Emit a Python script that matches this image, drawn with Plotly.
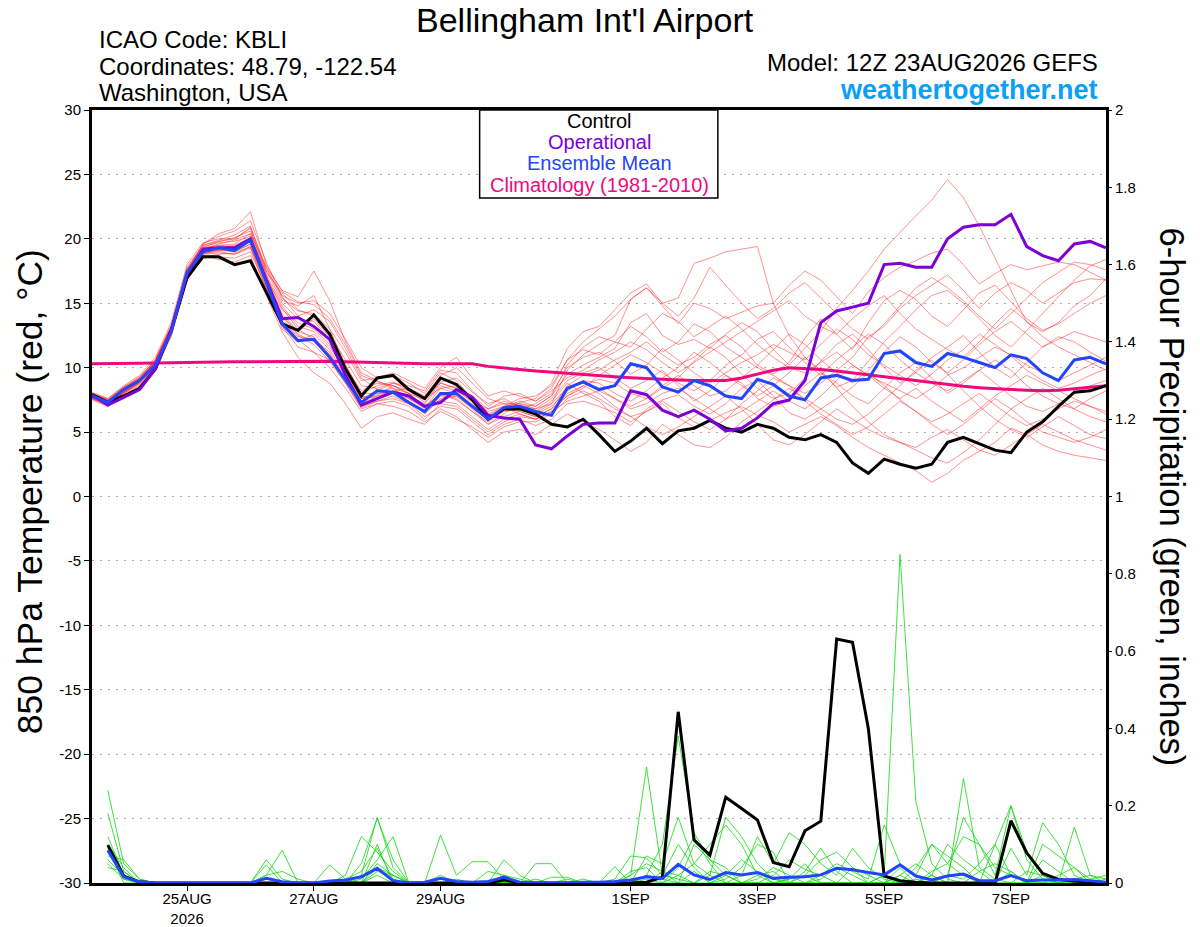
import pandas as pd
import plotly.graph_objects as go

# 6-hourly GEFS steps, 12Z 23 Aug 2026 -> 12Z 8 Sep 2026
times = pd.date_range("2026-08-23 12:00", periods=65, freq="6h")
precip_times = times[1:]

tick_dates = ["2026-08-25", "2026-08-27", "2026-08-29", "2026-09-01",
              "2026-09-03", "2026-09-05", "2026-09-07"]
tick_text = ["25AUG<br>2026", "27AUG", "29AUG", "1SEP", "3SEP", "5SEP", "7SEP"]

temp_ticks = [-30, -25, -20, -15, -10, -5, 0, 5, 10, 15, 20, 25, 30]
temp_tick_text = ["-30", "-25", "-20", "-15", "-10", "-5", "0", "5", "10", "15", "20", "25", "30"]
precip_ticks = [0, 0.2, 0.4, 0.6, 0.8, 1, 1.2, 1.4, 1.6, 1.8, 2]
precip_tick_text = ["0", "0.2", "0.4", "0.6", "0.8", "1", "1.2", "1.4", "1.6", "1.8", "2"]

# 850 hPa temperature (C)
control_t = [7.9, 7.3, 7.8, 8.4, 9.9, 12.9, 17.0, 18.6, 18.6, 18.0, 18.3,
             15.9, 13.4, 12.9, 14.1, 12.6, 9.9, 7.8, 9.2, 9.4, 8.3,
             7.6, 9.2, 8.7, 7.5, 6.0, 6.8, 6.8, 6.4, 5.6, 5.4,
             6.0, 4.8, 3.5, 4.3, 5.3, 4.1, 5.1, 5.3, 5.9, 5.3,
             5.0, 5.6, 5.3, 4.6, 4.4, 4.8, 4.2, 2.6, 1.8, 2.9,
             2.5, 2.2, 2.5, 4.2, 4.6, 4.1, 3.6, 3.4, 5.0, 5.8,
             7.0, 8.1, 8.2, 8.6]
ops_t = [7.9, 7.1, 7.7, 8.3, 9.9, 12.9, 17.3, 19.2, 19.3, 19.3, 20.0,
         16.8, 13.8, 13.9, 13.2, 12.2, 9.4, 7.1, 7.6, 8.1, 7.8,
         7.0, 7.3, 8.3, 7.7, 6.3, 6.1, 6.0, 4.0, 3.7, 4.7,
         5.6, 5.7, 5.7, 8.2, 7.9, 6.7, 6.2, 6.7, 6.0, 5.1,
         5.3, 6.1, 7.2, 7.5, 9.0, 13.5, 14.4, 14.7, 15.0, 18.0,
         18.1, 17.8, 17.8, 20.0, 20.9, 21.1, 21.1, 21.9, 19.4, 18.7,
         18.3, 19.6, 19.8, 19.3]
mean_t = [7.8, 7.3, 8.3, 9.0, 10.2, 12.8, 17.4, 19.0, 19.3, 19.1, 19.9,
          16.7, 13.4, 12.1, 12.2, 10.8, 9.0, 7.3, 8.2, 8.1, 7.3,
          6.6, 8.0, 8.0, 7.0, 6.0, 6.9, 7.0, 6.6, 6.3, 8.4,
          8.9, 8.3, 8.6, 10.3, 10.0, 8.5, 8.1, 9.0, 8.6, 7.8,
          7.6, 9.1, 8.7, 7.8, 7.5, 9.2, 9.4, 9.0, 9.1, 11.1,
          11.3, 10.4, 10.1, 11.1, 10.8, 10.4, 10.0, 11.0, 10.7, 9.6,
          9.0, 10.6, 10.8, 10.3]
clim_t = [10.3, 10.3, 10.32, 10.35, 10.37, 10.4, 10.4, 10.42, 10.44, 10.45, 10.46,
          10.47, 10.48, 10.5, 10.5, 10.5, 10.46, 10.42, 10.38, 10.34, 10.3,
          10.3, 10.3, 10.3, 10.3, 10.1, 9.95, 9.85, 9.75, 9.65, 9.55,
          9.45, 9.38, 9.3, 9.22, 9.15, 9.1, 9.05, 9.0, 9.0, 9.0,
          9.2, 9.5, 9.8, 10.0, 9.95, 9.85, 9.75, 9.6, 9.45, 9.3,
          9.1, 8.95, 8.8, 8.65, 8.55, 8.45, 8.35, 8.3, 8.25, 8.2,
          8.25, 8.35, 8.45, 8.6]

# ensemble members (temperature)
t_m01 = [8.0, 7.5, 8.5, 9.3, 10.6, 13.3, 17.8, 19.5, 19.9, 20.3, 21.0,
         17.5, 15.2, 14.8, 15.6, 13.0, 10.2, 8.0, 8.6, 8.9, 8.2,
         7.3, 8.8, 8.4, 7.2, 6.0, 6.9, 7.4, 7.0, 7.8, 9.5,
         10.2, 10.8, 11.5, 13.5, 14.2, 12.5, 11.8, 12.2, 11.5, 12.6,
         13.5, 12.8, 11.4, 10.2, 11.5, 12.8, 14.6, 16.0, 17.5, 19.2,
         20.5, 21.8, 23.0, 24.6, 23.2, 21.0, 18.5, 16.0, 13.5, 12.8,
         13.5, 14.8, 15.6, 16.9]
t_m02 = [7.6, 7.2, 8.1, 8.8, 10.1, 12.7, 17.0, 19.2, 19.6, 19.9, 20.4,
         17.8, 16.0, 15.5, 17.5, 15.2, 12.0, 9.6, 9.0, 8.4, 8.0,
         7.0, 7.9, 7.5, 6.6, 5.6, 6.4, 7.3, 7.6, 8.8, 11.5,
         12.8, 13.2, 14.5, 15.8, 16.5, 15.0, 15.4, 18.1, 18.5, 19.0,
         19.2, 19.4, 15.0, 12.5, 10.8, 9.6, 8.5, 9.0, 10.5, 12.0,
         13.2, 14.5, 15.6, 16.0, 15.0, 13.8, 12.5, 11.6, 12.9, 14.2,
         15.5, 16.8, 17.9, 18.4]
t_m03 = [7.9, 7.4, 8.3, 9.1, 10.4, 13.0, 17.5, 19.6, 20.2, 20.6, 21.4,
         18.2, 15.5, 14.0, 14.5, 13.6, 11.5, 9.2, 8.3, 8.0, 7.6,
         6.8, 7.5, 7.8, 6.9, 5.9, 6.7, 7.0, 6.5, 7.2, 9.8,
         11.0, 11.8, 12.5, 15.3, 16.2, 14.8, 13.4, 15.0, 14.6, 13.8,
         14.3, 14.8, 15.0, 16.4, 17.5, 16.8, 15.5, 14.2, 15.9, 17.0,
         17.8, 18.3, 18.9, 19.2, 18.0, 16.5, 17.3, 18.0, 17.6, 17.9,
         18.2, 18.0, 17.4, 16.8]
t_m04 = [7.7, 7.1, 8.0, 8.9, 10.2, 12.6, 16.9, 18.8, 19.1, 19.0, 19.6,
         16.4, 13.0, 12.0, 12.6, 11.4, 9.4, 7.4, 8.1, 8.4, 7.6,
         6.9, 8.4, 8.0, 7.0, 6.1, 6.8, 6.6, 6.2, 6.8, 8.6,
         9.4, 9.8, 10.6, 11.2, 12.0, 11.0, 10.2, 10.8, 11.8, 12.5,
         11.6, 10.2, 9.5, 10.4, 12.3, 13.8, 12.6, 11.4, 13.5, 15.2,
         16.0, 15.3, 14.0, 13.2, 14.5, 15.8, 16.4, 15.1, 13.8, 12.9,
         13.4, 14.2, 15.0, 15.6]
t_m05 = [7.8, 7.3, 8.2, 9.0, 10.3, 12.8, 17.2, 18.9, 19.0, 18.8, 19.3,
         16.0, 13.8, 12.5, 11.8, 10.5, 8.8, 6.9, 7.4, 7.8, 7.2,
         6.2, 7.0, 6.8, 5.8, 4.8, 5.6, 6.0, 5.5, 6.0, 7.2,
         7.4, 7.0, 6.5, 5.8, 6.6, 7.2, 6.1, 5.4, 5.9, 6.5,
         7.0, 6.3, 5.8, 5.0, 5.6, 6.2, 5.5, 4.6, 3.8, 3.2,
         2.6, 2.0, 1.1, 1.8, 2.8, 3.5, 4.2, 5.3, 4.8, 4.0,
         3.5, 3.2, 3.0, 2.8]
t_m06 = [7.5, 7.0, 7.9, 8.7, 10.0, 12.5, 16.8, 18.6, 18.8, 18.9, 19.4,
         16.5, 14.5, 13.5, 13.0, 11.8, 9.6, 7.6, 7.8, 8.0, 7.4,
         6.4, 7.6, 7.9, 7.1, 6.3, 6.9, 6.4, 6.0, 6.5, 8.0,
         8.6, 9.1, 8.8, 8.0, 7.6, 8.4, 9.2, 10.5, 11.6, 10.8,
         9.5, 8.4, 7.6, 8.0, 9.2, 10.5, 11.8, 12.6, 11.4, 10.0,
         8.8, 9.6, 10.8, 11.6, 12.5, 11.2, 10.0, 9.2, 10.4, 11.6,
         12.4, 12.0, 11.2, 10.5]
t_m07 = [8.1, 7.6, 8.6, 9.4, 10.8, 13.5, 18.0, 19.7, 20.0, 20.0, 20.8,
         17.2, 15.0, 13.8, 13.6, 12.2, 10.0, 8.2, 8.8, 8.6, 8.0,
         7.5, 8.9, 9.2, 8.1, 7.2, 7.6, 7.0, 6.6, 7.4, 8.8,
         8.0, 7.4, 6.2, 5.5, 6.8, 7.5, 7.9, 7.0, 6.4, 7.2,
         8.4, 9.0, 7.8, 6.5, 6.0, 6.8, 7.6, 8.5, 9.6, 8.6,
         7.5, 6.6, 5.8, 6.4, 7.2, 8.0, 7.1, 6.2, 5.5, 6.0,
         6.8, 7.4, 7.0, 6.4]
t_m08 = [7.7, 7.2, 8.0, 8.8, 10.1, 12.7, 17.1, 19.0, 19.3, 19.5, 20.1,
         17.0, 14.8, 13.2, 12.8, 11.6, 9.8, 7.8, 7.6, 8.2, 8.4,
         7.8, 9.4, 10.0, 8.8, 7.6, 7.2, 6.8, 7.2, 8.0, 10.0,
         10.8, 11.2, 10.5, 9.5, 10.2, 11.5, 10.6, 9.6, 8.8, 9.6,
         10.4, 11.0, 11.8, 11.2, 10.6, 11.8, 13.0, 12.2, 11.0, 10.2,
         9.4, 8.6, 9.5, 10.6, 11.4, 12.6, 11.8, 10.9, 9.8, 9.0,
         8.4, 8.8, 9.4, 9.9]
t_m09 = [7.9, 7.4, 8.3, 9.0, 10.4, 13.0, 17.4, 18.7, 18.4, 18.2, 18.7,
         15.6, 12.8, 10.8, 9.6, 8.8, 7.2, 5.3, 6.2, 6.5, 6.0,
         5.6, 6.8, 6.2, 5.2, 4.2, 5.0, 5.2, 4.8, 5.6, 6.4,
         5.8, 5.2, 4.4, 3.5, 4.2, 5.6, 4.8, 4.0, 3.8, 4.6,
         5.8, 6.6, 7.5, 8.4, 7.6, 6.8, 6.0, 5.6, 6.4, 7.5,
         8.6, 9.8, 10.6, 9.5, 8.2, 7.0, 6.0, 5.2, 4.6, 5.4,
         6.2, 5.5, 4.8, 4.5]
t_m10 = [7.6, 7.1, 8.1, 8.9, 10.2, 12.8, 17.3, 19.3, 19.8, 20.1, 20.6,
         17.6, 15.6, 15.0, 15.2, 14.2, 12.2, 10.0, 9.2, 9.4, 8.8,
         8.0, 9.6, 9.0, 7.6, 6.6, 7.0, 7.6, 7.8, 8.6, 10.6,
         11.4, 11.0, 12.0, 13.2, 12.4, 11.2, 12.0, 13.4, 12.8, 11.6,
         10.8, 10.0, 9.4, 8.6, 8.0, 8.8, 9.8, 10.8, 12.4, 13.2,
         14.6, 15.6, 16.4, 17.2, 16.0, 14.6, 15.8, 16.6, 16.0, 15.0,
         15.8, 16.6, 16.9, 16.8]
t_m11 = [7.8, 7.4, 8.4, 9.2, 10.6, 13.2, 17.6, 19.1, 19.2, 19.0, 19.6,
         16.8, 14.2, 12.8, 12.4, 11.0, 9.0, 7.2, 7.8, 8.2, 7.8,
         7.2, 8.6, 8.2, 7.4, 6.8, 7.4, 7.0, 6.8, 7.6, 9.0,
         9.6, 10.0, 9.2, 8.4, 9.0, 9.8, 8.6, 7.4, 8.2, 9.4,
         8.8, 7.6, 7.0, 7.4, 8.6, 9.6, 8.8, 7.8, 7.2, 8.4,
         9.6, 10.4, 9.2, 8.0, 8.8, 9.8, 10.6, 9.8, 8.6, 7.8,
         7.2, 6.8, 7.6, 8.2]
t_m12 = [8.0, 7.6, 8.5, 9.2, 10.5, 13.1, 17.6, 19.4, 19.7, 19.8, 20.2,
         17.4, 15.8, 14.5, 14.0, 12.6, 10.6, 8.6, 8.4, 8.8, 8.6,
         8.2, 9.8, 9.6, 8.2, 7.0, 7.8, 8.0, 7.4, 8.2, 9.2,
         9.8, 10.6, 11.2, 12.0, 11.4, 10.4, 9.6, 10.4, 11.2, 12.0,
         12.8, 13.6, 14.4, 15.2, 14.0, 13.2, 12.6, 13.8, 14.8, 15.6,
         14.2, 13.0, 12.2, 11.4, 10.8, 12.0, 13.4, 14.6, 13.6, 12.4,
         11.6, 11.0, 10.4, 9.8]
t_m13 = [7.6, 7.0, 7.8, 8.6, 9.9, 12.4, 16.8, 18.5, 18.6, 18.5, 19.0,
         16.2, 13.6, 12.2, 11.2, 10.0, 8.4, 6.6, 7.2, 7.0, 6.6,
         5.8, 6.6, 6.0, 5.4, 4.6, 5.4, 5.8, 5.8, 6.4, 7.6,
         8.2, 7.6, 6.8, 6.2, 5.4, 4.8, 5.4, 6.2, 7.0, 7.8,
         6.8, 5.6, 4.4, 4.0, 4.8, 5.8, 6.8, 6.0, 5.2, 4.6,
         4.2, 3.8, 4.6, 5.2, 4.4, 3.6, 3.2, 4.0, 4.8, 5.6,
         5.0, 4.4, 4.0, 3.6]
t_m14 = [7.9, 7.5, 8.4, 9.1, 10.5, 13.0, 17.5, 19.6, 20.4, 20.8, 22.1,
         18.0, 15.9, 15.1, 14.9, 13.8, 11.8, 9.4, 8.9, 8.6, 8.2,
         7.6, 8.4, 8.6, 7.8, 6.8, 7.2, 7.2, 7.0, 7.8, 10.2,
         11.6, 12.4, 12.0, 11.6, 13.0, 14.2, 13.6, 12.4, 13.2, 14.0,
         13.0, 11.8, 10.8, 10.0, 9.6, 10.4, 11.2, 10.2, 9.4, 8.8,
         8.2, 7.6, 8.4, 9.4, 10.0, 10.8, 11.6, 11.0, 10.2, 9.6,
         9.0, 9.6, 10.2, 10.8]
t_m15 = [7.7, 7.2, 8.1, 8.9, 10.3, 12.9, 17.2, 19.2, 19.5, 19.6, 20.4,
         17.2, 14.0, 12.6, 12.0, 10.8, 9.2, 7.6, 7.9, 8.6, 8.0,
         7.0, 8.0, 7.6, 6.6, 5.8, 6.6, 6.8, 6.4, 7.0, 8.2,
         9.0, 8.8, 8.0, 7.4, 8.2, 9.2, 10.0, 11.2, 10.4, 9.4,
         8.6, 7.8, 8.6, 9.6, 10.8, 9.8, 8.4, 7.0, 5.8, 4.8,
         4.2, 3.6, 3.0, 2.6, 3.4, 4.4, 5.6, 6.8, 7.6, 8.4,
         7.6, 6.8, 6.2, 5.8]
t_m16 = [7.8, 7.3, 8.2, 9.0, 10.4, 13.0, 17.4, 19.0, 19.1, 19.2, 19.8,
         17.0, 14.6, 13.0, 12.2, 11.0, 9.4, 7.6, 8.2, 8.8, 8.4,
         7.6, 8.8, 8.4, 7.6, 6.4, 7.0, 7.2, 6.8, 7.2, 8.4,
         8.8, 8.4, 7.6, 7.0, 7.6, 8.6, 9.4, 8.6, 7.8, 8.2,
         9.2, 10.2, 11.4, 12.6, 11.8, 10.6, 9.6, 8.8, 9.8, 11.2,
         12.4, 11.6, 10.4, 9.6, 10.6, 11.8, 12.8, 13.6, 12.6, 11.6,
         12.2, 12.8, 12.4, 12.0]
t_m17 = [7.9, 7.4, 8.2, 9.1, 10.5, 13.1, 17.4, 19.3, 19.5, 19.4, 20.0,
         16.8, 14.0, 12.8, 13.8, 12.4, 10.2, 8.0, 8.0, 8.0, 7.2,
         6.6, 7.8, 7.8, 6.8, 5.6, 6.2, 6.6, 6.2, 6.8, 7.8,
         8.4, 9.4, 10.2, 11.0, 10.4, 9.6, 8.8, 8.2, 9.0, 10.2,
         11.0, 12.2, 12.8, 11.6, 10.4, 9.4, 10.6, 11.6, 12.6, 11.8,
         10.6, 9.6, 8.8, 8.2, 9.0, 9.8, 8.8, 7.8, 7.0, 6.6,
         7.2, 8.0, 8.6, 9.0]
t_m18 = [7.6, 7.2, 8.0, 8.8, 10.0, 12.6, 17.0, 18.9, 19.2, 19.4, 19.9,
         16.6, 13.6, 12.4, 12.2, 11.2, 9.0, 7.0, 7.4, 7.6, 7.2,
         6.6, 7.4, 7.2, 6.2, 5.2, 6.0, 6.4, 6.0, 6.6, 7.4,
         7.8, 8.2, 7.6, 6.8, 7.2, 8.0, 8.4, 7.6, 6.8, 6.0,
         6.6, 7.4, 8.2, 7.4, 6.8, 7.8, 9.0, 10.2, 9.4, 8.4,
         7.6, 8.4, 7.4, 6.6, 5.8, 6.8, 7.8, 8.6, 9.4, 8.8,
         8.2, 7.6, 7.0, 6.6]
t_m19 = [8.0, 7.5, 8.4, 9.2, 10.6, 13.2, 17.7, 19.5, 19.8, 20.0, 20.9,
         17.8, 15.4, 14.4, 14.2, 13.0, 11.2, 9.0, 9.2, 9.6, 9.0,
         8.4, 10.0, 10.8, 9.2, 7.8, 8.2, 7.8, 7.4, 8.4, 10.6,
         12.0, 13.0, 14.0, 15.3, 16.2, 15.0, 14.0, 15.4, 17.8, 16.4,
         15.0, 13.8, 14.6, 15.8, 16.6, 15.4, 14.2, 13.0, 12.2, 13.4,
         14.8, 16.2, 17.0, 16.2, 15.2, 14.0, 13.0, 14.2, 15.4, 16.6,
         17.4, 18.2, 18.0, 17.6]
t_m20 = [7.7, 7.3, 8.1, 8.9, 10.2, 12.8, 17.2, 18.8, 18.9, 18.8, 19.4,
         16.2, 13.2, 11.6, 11.2, 10.6, 8.8, 6.8, 7.2, 7.4, 7.0,
         6.0, 7.2, 7.0, 6.0, 5.0, 5.8, 6.2, 6.0, 6.6, 7.8,
         8.6, 8.0, 7.0, 6.2, 6.6, 7.4, 6.6, 5.8, 5.2, 6.0,
         7.2, 8.2, 9.2, 8.6, 7.4, 6.4, 5.6, 4.8, 5.4, 6.4,
         7.4, 6.6, 5.6, 4.8, 5.6, 6.6, 7.6, 6.8, 5.8, 5.0,
         4.6, 4.2, 4.6, 5.2]

temp_members = [t_m01, t_m02, t_m03, t_m04, t_m05, t_m06, t_m07, t_m08, t_m09, t_m10,
                t_m11, t_m12, t_m13, t_m14, t_m15, t_m16, t_m17, t_m18, t_m19, t_m20]

# 6-hour precipitation (inches), 18Z 23 Aug onward
control_p = [0.098, 0.018, 0.003, 0, 0, 0, 0, 0, 0, 0, 0, 0, 0, 0, 0, 0,
             0, 0, 0, 0, 0, 0, 0, 0, 0, 0.008, 0, 0, 0, 0, 0, 0,
             0, 0, 0.002, 0.015, 0.443, 0.111, 0.072, 0.222, 0.193, 0.163, 0.053, 0.042, 0.135, 0.160, 0.631, 0.623,
             0.400, 0.018, 0.006, 0.002, 0, 0, 0, 0, 0, 0.161, 0.078, 0.025, 0.009, 0.005, 0.002, 0]
mean_p = [0.085, 0.016, 0.003, 0, 0, 0, 0, 0, 0, 0, 0.012, 0.003, 0, 0, 0.005, 0.008,
          0.016, 0.038, 0.006, 0, 0.002, 0.012, 0.004, 0.002, 0.004, 0.015, 0.002, 0, 0, 0, 0.002, 0.002,
          0.004, 0.008, 0.016, 0.012, 0.048, 0.021, 0.009, 0.027, 0.021, 0.027, 0.012, 0.015, 0.016, 0.021, 0.038, 0.034,
          0.027, 0.021, 0.047, 0.018, 0.008, 0.018, 0.023, 0.006, 0.006, 0.019, 0.006, 0.008, 0.008, 0.009, 0.006, 0.002]

p_m01 = [0.24, 0.05, 0.01, 0, 0, 0, 0, 0, 0, 0, 0, 0, 0, 0, 0, 0,
         0.02, 0.17, 0.04, 0, 0, 0, 0.01, 0, 0, 0.02, 0, 0, 0, 0, 0, 0,
         0, 0.02, 0.30, 0.02, 0.01, 0, 0.03, 0.02, 0, 0, 0, 0.01, 0.02, 0, 0, 0,
         0, 0.02, 0.85, 0.21, 0.05, 0.01, 0, 0, 0, 0.03, 0, 0, 0, 0.01, 0, 0]
p_m02 = [0.18, 0.03, 0, 0, 0, 0, 0, 0, 0, 0, 0.02, 0.085, 0, 0, 0, 0,
         0.01, 0.06, 0.12, 0, 0, 0.02, 0, 0, 0, 0, 0, 0, 0, 0, 0, 0,
         0, 0, 0.02, 0.10, 0.38, 0.13, 0.06, 0.02, 0, 0.01, 0.04, 0.02, 0, 0.01, 0.04, 0.02,
         0, 0, 0.02, 0.05, 0.02, 0, 0.27, 0.04, 0.01, 0, 0, 0.02, 0.01, 0, 0, 0]
p_m03 = [0.12, 0.02, 0, 0, 0, 0, 0, 0, 0, 0, 0.06, 0.01, 0, 0, 0.047, 0.01,
         0, 0.04, 0.02, 0, 0, 0.124, 0.02, 0.055, 0.055, 0.01, 0, 0, 0.015, 0.015, 0, 0,
         0, 0, 0.07, 0.05, 0.17, 0.05, 0.02, 0.17, 0.12, 0.05, 0.01, 0, 0, 0.02, 0.05, 0.03,
         0.01, 0.15, 0.05, 0.02, 0.10, 0.05, 0.12, 0.10, 0.02, 0.20, 0.08, 0.02, 0, 0.01, 0.02, 0.01]
p_m04 = [0.10, 0.04, 0, 0, 0, 0, 0, 0, 0, 0, 0.047, 0, 0, 0, 0, 0,
         0, 0.10, 0, 0, 0, 0, 0, 0, 0, 0.06, 0.02, 0, 0, 0, 0, 0,
         0.042, 0, 0.01, 0, 0.04, 0.12, 0.05, 0, 0.02, 0.12, 0.05, 0.13, 0.10, 0.05, 0.02, 0.09,
         0.04, 0.01, 0, 0, 0.02, 0.10, 0.06, 0.03, 0, 0.09, 0.02, 0.156, 0.10, 0.02, 0, 0]
p_m05 = [0.07, 0.06, 0.01, 0, 0, 0, 0, 0, 0, 0, 0, 0, 0, 0, 0, 0.02,
         0.12, 0.08, 0.03, 0, 0, 0, 0, 0, 0.03, 0.02, 0.01, 0, 0, 0, 0, 0,
         0, 0.03, 0.04, 0, 0.02, 0.05, 0.10, 0.15, 0.10, 0.02, 0, 0, 0.03, 0.09, 0.03, 0,
         0, 0, 0, 0.04, 0.10, 0.07, 0.04, 0, 0.10, 0.20, 0.06, 0.01, 0, 0.145, 0.02, 0]
p_m06 = [0.06, 0.02, 0, 0, 0, 0, 0, 0, 0, 0, 0.02, 0.03, 0.01, 0, 0, 0,
         0, 0.03, 0.02, 0, 0, 0, 0, 0, 0, 0, 0, 0, 0, 0.01, 0, 0,
         0.01, 0.07, 0.065, 0.02, 0.10, 0.04, 0, 0.01, 0.04, 0.10, 0.08, 0, 0.02, 0.06, 0.08, 0.04,
         0, 0, 0.04, 0, 0, 0.02, 0.17, 0.10, 0.04, 0.02, 0, 0.10, 0.07, 0.04, 0.01, 0.02]
p_m07 = [0.05, 0.01, 0, 0, 0, 0, 0, 0, 0, 0, 0, 0, 0, 0, 0, 0,
         0.05, 0.167, 0.06, 0, 0, 0, 0, 0, 0, 0, 0, 0.05, 0.05, 0, 0, 0,
         0, 0.01, 0, 0.03, 0, 0.10, 0.06, 0.04, 0, 0, 0.02, 0.06, 0.035, 0.02, 0, 0,
         0, 0, 0, 0, 0.02, 0, 0, 0.03, 0.05, 0.03, 0, 0, 0.02, 0.04, 0, 0]
p_m08 = [0.04, 0.03, 0, 0, 0, 0, 0, 0, 0, 0, 0, 0, 0, 0, 0, 0.01,
         0.03, 0.09, 0.01, 0, 0, 0.01, 0, 0, 0, 0.02, 0, 0, 0, 0, 0.01, 0,
         0, 0, 0.02, 0.01, 0, 0.03, 0, 0.02, 0.06, 0.03, 0, 0.01, 0.05, 0, 0, 0,
         0, 0.02, 0, 0.01, 0, 0.02, 0.01, 0.05, 0.10, 0.02, 0, 0.06, 0.03, 0, 0, 0]
p_m09 = [0.09, 0, 0, 0, 0, 0, 0, 0, 0, 0, 0, 0, 0, 0, 0, 0,
         0, 0.05, 0.02, 0, 0, 0, 0, 0, 0, 0, 0, 0, 0, 0, 0, 0,
         0, 0.02, 0.05, 0.03, 0.02, 0, 0, 0, 0, 0.02, 0.03, 0, 0, 0, 0, 0.04,
         0.02, 0, 0, 0, 0.03, 0.05, 0.02, 0, 0, 0, 0.03, 0.02, 0, 0, 0, 0.01]
p_m10 = [0.08, 0.01, 0, 0, 0, 0, 0, 0, 0, 0, 0, 0, 0, 0, 0, 0,
         0, 0.02, 0, 0, 0, 0, 0, 0, 0, 0, 0, 0.01, 0, 0, 0, 0,
         0, 0, 0, 0, 0, 0, 0.02, 0, 0, 0, 0, 0, 0, 0, 0, 0,
         0, 0, 0.02, 0, 0, 0, 0, 0, 0, 0, 0, 0, 0, 0, 0, 0]

precip_members = [p_m01, p_m02, p_m03, p_m04, p_m05, p_m06, p_m07, p_m08, p_m09, p_m10]

FONT = "Liberation Sans, Arial, sans-serif"
RED = "rgba(255,30,30,0.55)"
GREEN = "rgba(20,215,20,0.9)"
PURPLE = "#7d00d6"
BLUE = "#2244ff"
PINK = "#ee0a7e"

fig = go.Figure()

for m in temp_members:
    fig.add_trace(go.Scatter(x=times, y=m, mode="lines",
                             line=dict(color=RED, width=0.9),
                             showlegend=False, hoverinfo="skip"))

for m in precip_members:
    fig.add_trace(go.Scatter(x=precip_times, y=m, mode="lines", yaxis="y2",
                             line=dict(color=GREEN, width=0.9),
                             showlegend=False, hoverinfo="skip"))

fig.add_trace(go.Scatter(x=times, y=clim_t, mode="lines",
                         line=dict(color=PINK, width=3), showlegend=False))
fig.add_trace(go.Scatter(x=times, y=control_t, mode="lines",
                         line=dict(color="black", width=3), showlegend=False))
fig.add_trace(go.Scatter(x=times, y=ops_t, mode="lines",
                         line=dict(color=PURPLE, width=3), showlegend=False))
fig.add_trace(go.Scatter(x=times, y=mean_t, mode="lines",
                         line=dict(color=BLUE, width=3), showlegend=False))
fig.add_trace(go.Scatter(x=precip_times, y=control_p, mode="lines", yaxis="y2",
                         line=dict(color="black", width=3), showlegend=False))
fig.add_trace(go.Scatter(x=precip_times, y=mean_p, mode="lines", yaxis="y2",
                         line=dict(color=BLUE, width=3), showlegend=False))

annotations = [
    dict(text="Bellingham Int'l Airport", x=0.486, y=1.1164, font=dict(size=34)),
    dict(text="ICAO Code: KBLI", x=0.0054, y=1.0906, xanchor="left", font=dict(size=24)),
    dict(text="Coordinates: 48.79, -122.54", x=0.0054, y=1.0569, xanchor="left", font=dict(size=24)),
    dict(text="Washington, USA", x=0.0054, y=1.0220, xanchor="left", font=dict(size=24)),
    dict(text="Model: 12Z 23AUG2026 GEFS", x=0.9941, y=1.0610, xanchor="right", font=dict(size=24)),
    dict(text="<b>weathertogether.net</b>", x=0.9941, y=1.0265, xanchor="right",
         font=dict(size=27, color="#0aa0f5")),
    dict(text="850 hPa Temperature (red, °C)", x=-0.0617, y=0.506, textangle=-90,
         font=dict(size=35.5)),
    dict(text="6-hour Precipitation (green, inches)", x=1.0651, y=0.5, textangle=90,
         font=dict(size=34.5)),
    # legend box lines
    dict(text="Control", x=0.5, y=0.9858, font=dict(size=20)),
    dict(text="Operational", x=0.5, y=0.9586, font=dict(size=20, color=PURPLE)),
    dict(text="Ensemble Mean", x=0.5, y=0.9314, font=dict(size=20, color=BLUE)),
    dict(text="Climatology (1981-2010)", x=0.5, y=0.9030, font=dict(size=20, color=PINK)),
]
for a in annotations:
    a.setdefault("xref", "paper")
    a.setdefault("yref", "paper")
    a.setdefault("showarrow", False)
    a.setdefault("xanchor", "center")
    a.setdefault("yanchor", "middle")
    a["font"] = dict(family=FONT, color=a["font"].get("color", "black"), size=a["font"]["size"])

legend_box = dict(type="rect", xref="paper", yref="paper",
                  x0=0.3823, x1=0.6172, y0=0.886, y1=1.0,
                  fillcolor="white", line=dict(color="black", width=1.5), layer="above")

fig.update_layout(
    width=1200, height=927,
    margin=dict(l=92, r=94, t=110, b=44),
    paper_bgcolor="white", plot_bgcolor="white",
    font=dict(family=FONT, color="black", size=15),
    annotations=annotations,
    shapes=[legend_box],
    xaxis=dict(
        type="date", range=[times[0], times[-1]],
        tickvals=tick_dates, ticktext=tick_text,
        showline=True, linecolor="black", linewidth=3, mirror=True,
        ticks="outside", ticklen=5, tickcolor="black",
        showgrid=False, zeroline=False, tickfont=dict(size=15),
        ticklabelstandoff=-5, automargin=False,
    ),
    yaxis=dict(
        range=[-30, 30], tickvals=temp_ticks, ticktext=temp_tick_text,
        showline=True, linecolor="black", linewidth=3, mirror=True,
        ticks="outside", ticklen=5, tickcolor="black",
        showgrid=True, gridcolor="#aaaaaa", griddash="2px,6px", gridwidth=1,
        zeroline=False, tickfont=dict(size=15), automargin=False,
    ),
    yaxis2=dict(
        overlaying="y", side="right", range=[0, 2],
        tickvals=precip_ticks, ticktext=precip_tick_text,
        ticks="outside", ticklen=5, tickcolor="black",
        showgrid=False, zeroline=False, showline=False, tickfont=dict(size=15),
        automargin=False,
    ),
)

# drop the default 8px page margin so the 1200x927 figure fills the window exactly
fig.write_html("out.html", config={"displayModeBar": False},
               post_script="document.body.style.margin='0px';")
